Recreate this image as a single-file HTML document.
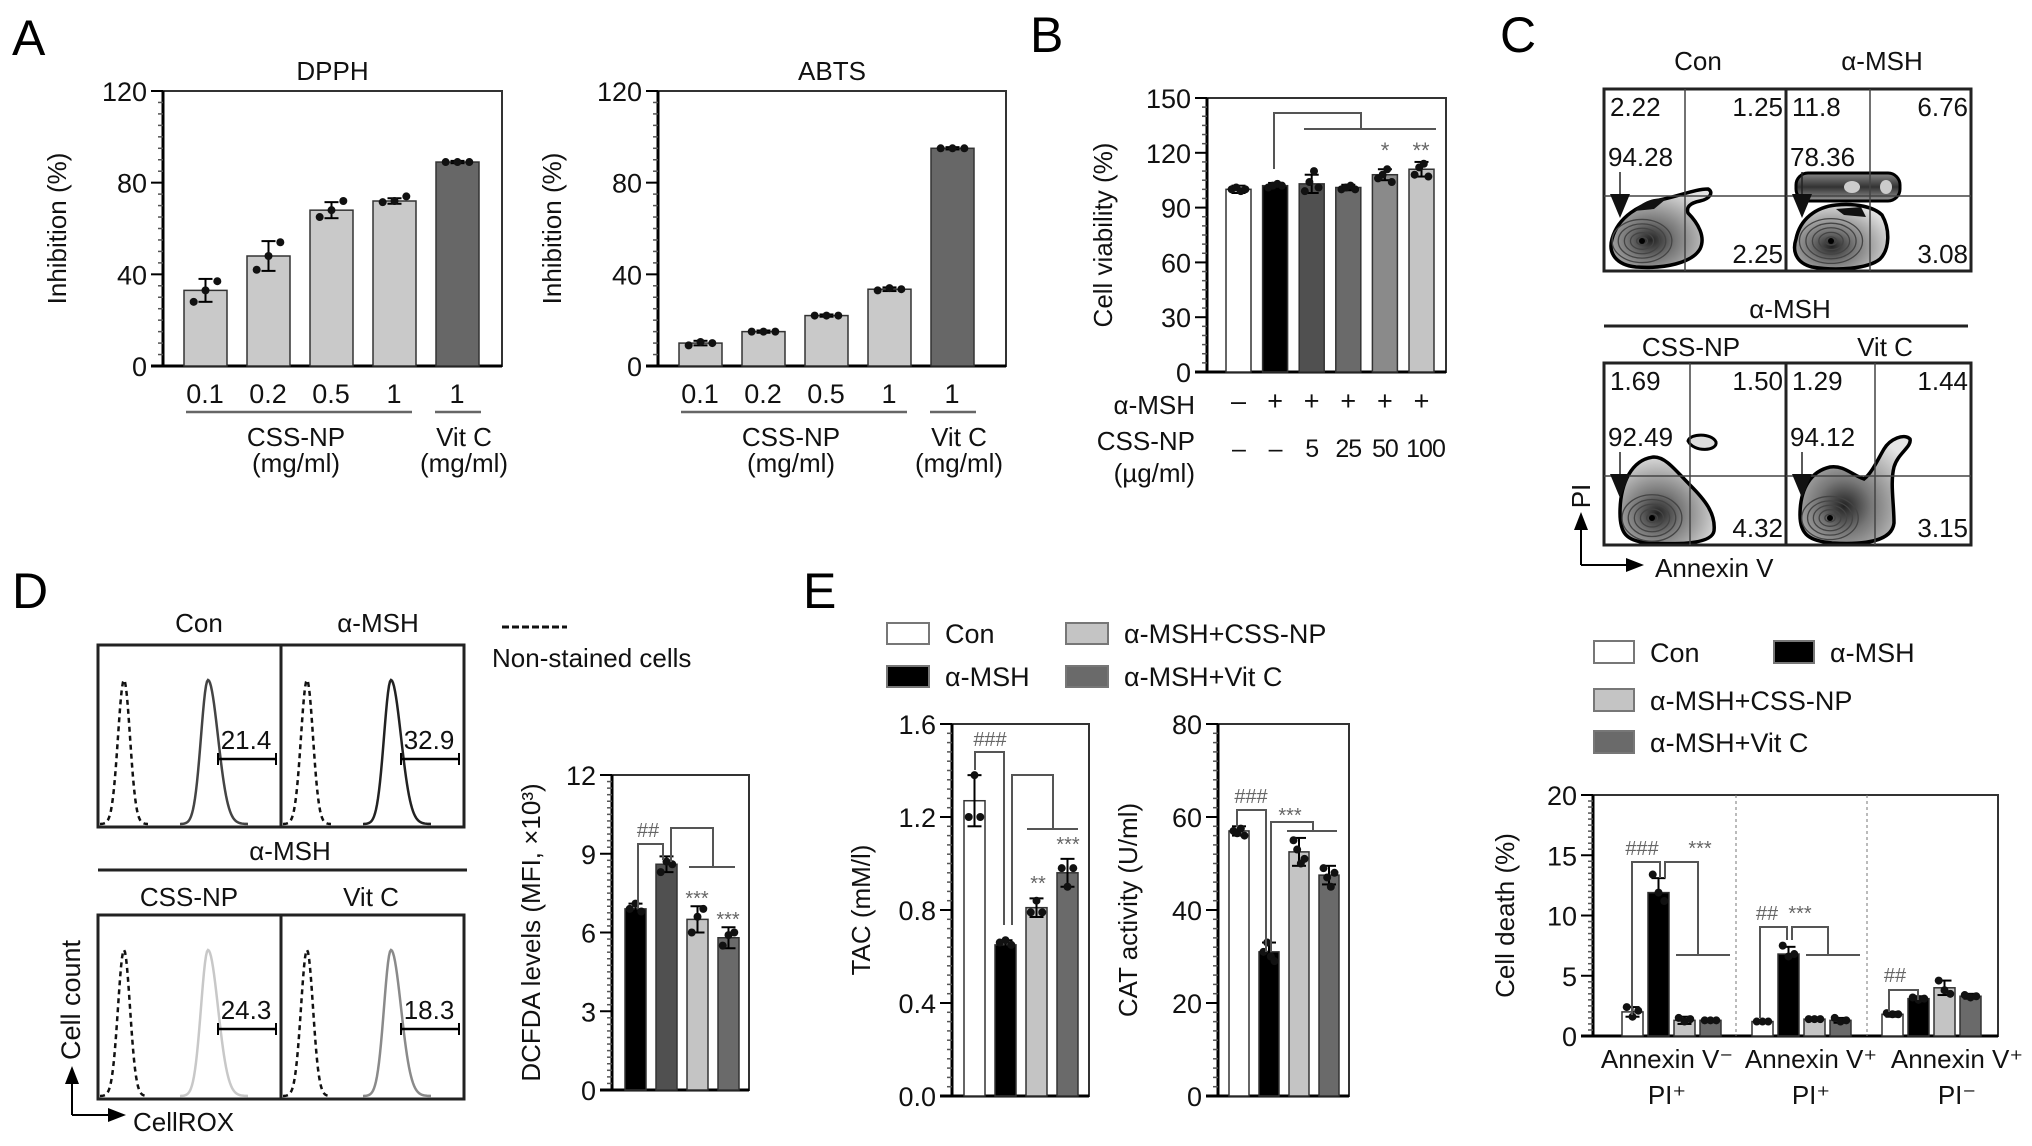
<!DOCTYPE html>
<html><head><meta charset="utf-8"><style>
html,body{margin:0;padding:0;background:#fff;}
svg{display:block;font-family:"Liberation Sans",sans-serif;}
</style></head><body>
<svg id="fig" width="2032" height="1146" viewBox="0 0 2032 1146" xmlns="http://www.w3.org/2000/svg">
<defs>
<radialGradient id="blobGrad" cx="0.4" cy="0.65" r="0.7">
<stop offset="0" stop-color="#222"/><stop offset="0.35" stop-color="#777"/><stop offset="0.75" stop-color="#bbb"/><stop offset="1" stop-color="#e4e4e4"/>
</radialGradient>
<linearGradient id="bandGrad" x1="0" y1="0" x2="0" y2="1">
<stop offset="0" stop-color="#888"/><stop offset="0.5" stop-color="#333"/><stop offset="1" stop-color="#999"/>
</linearGradient>
</defs>
<g id="static">
<text x="12" y="55" font-size="50">A</text>
<text x="1030" y="52" font-size="50">B</text>
<text x="1500" y="52" font-size="50">C</text>
<text x="12" y="608" font-size="50">D</text>
<text x="803" y="608" font-size="50">E</text>
</g>
</svg>
<script>
// ---------- DATA ----------
const dpphCats=['0.1','0.2','0.5','1','1'];
const dpphVals=[33,48,68,72,89];
const dpphErr=[5,6.5,3.5,1.2,0.5];
const dpphPts=[[28,33,37],[42,48,54],[65,68,72],[71.5,72,74],[89,89,89]];
const abtsCats=['0.1','0.2','0.5','1','1'];
const abtsVals=[10,15,22,33.5,95];
const abtsErr=[1,0.5,0.5,0.8,0.5];
const abtsPts=[[9,10.5,10],[15,15,15],[22,22,22],[33,34,33.5],[95,95,95]];
const aTicks=[0,40,80,120];
const bMsh=['\u2013','+','+','+','+','+'];
const bCss=['\u2013','\u2013','5','25','50','100'];
const bVals=[100,102,103,101,108,111];
const bErr=[2,1.5,5,1.5,3,4];
const bPts=[[100,101,99,100],[101,102,103,102],[99,104,110,101],[100,101,102,100],[106,108,111,104],[108,112,114,107]];
const bTicks=[0,30,60,90,120,150];
const dTicks=[0,3,6,9,12];
const dVals=[6.9,8.6,6.5,5.8];
const dErr=[0.2,0.3,0.5,0.4];
const dPts=[[6.9,7.1,6.8],[8.3,8.7,8.6],[6.0,6.6,6.9],[5.5,5.9,6.0]];
const tacTicks=['0.0','0.4','0.8','1.2','1.6'];
const tacVals=[1.27,0.65,0.81,0.96];
const tacErr=[0.11,0.02,0.04,0.06];
const tacPts=[[1.2,1.38,1.2],[0.66,0.67,0.65],[0.79,0.84,0.79],[0.98,0.9,0.98]];
const catTicks=[0,20,40,60,80];
const catVals=[57,31,52.5,47.5];
const catErr=[1,2,3,2];
const catPts=[[57,56.5,57.5,56],[31,33,30,29],[55,53,50,51],[49,47,45,48]];
const cdTicks=[0,5,10,15,20];
const cdGroups=['Annexin V\u207B|PI\u207A','Annexin V\u207A|PI\u207A','Annexin V\u207A|PI\u207B'];
const cdVals=[[2.0,11.9,1.3,1.3],[1.2,6.8,1.4,1.3],[1.8,3.1,4.0,3.3]];
const cdErr=[[0.4,1.2,0.3,0.1],[0.1,0.6,0.1,0.2],[0.2,0.2,0.6,0.2]];
const cdPts=[[[2.4,1.6,2.1],[13.4,11.9,11.2],[1.5,1.2,1.4],[1.3,1.3,1.3]],[[1.2,1.2,1.2],[7.5,6.6,6.8],[1.4,1.4,1.4],[1.5,1.2,1.3]],[[1.9,1.8,1.8],[3.2,3.0,3.1],[4.6,3.8,3.5],[3.4,3.2,3.3]]];
const flowQuads=[['2.22','1.25','94.28','2.25'],['11.8','6.76','78.36','3.08'],['1.69','1.50','92.49','4.32'],['1.29','1.44','94.12','3.15']];
const histVals=['21.4','32.9','24.3','18.3'];
const legendLabels=['Con','\u03B1-MSH','\u03B1-MSH+CSS-NP','\u03B1-MSH+Vit C'];

// ---------- HELPERS ----------
const NS='http://www.w3.org/2000/svg';
const svg=document.getElementById('fig');
function mk(tag,attrs,parent,text){const e=document.createElementNS(NS,tag);for(const k in attrs)e.setAttribute(k,attrs[k]);if(text!==undefined)e.textContent=text;(parent||svg).appendChild(e);return e;}
function line(p,x1,y1,x2,y2,w,c,dash){const a={x1,y1,x2,y2,stroke:c||'#000','stroke-width':w||2};if(dash)a['stroke-dasharray']=dash;return mk('line',a,p);}
function txt(p,x,y,s,size,anchor,fill,extra){const a={x,y,'font-size':size||25,'text-anchor':anchor||'middle',fill:fill||'#111'};if(extra)for(const k in extra)a[k]=extra[k];return mk('text',a,p,s);}

function axes(g,c){
  const yS=v=>c.yBot-(v/c.max)*(c.yBot-c.yTop);
  mk('rect',{x:c.x0,y:c.yTop,width:c.x1-c.x0,height:c.yBot-c.yTop,fill:'none',stroke:'#333','stroke-width':2},g);
  line(g,c.x0,c.yTop,c.x0,c.yBot,3);
  line(g,c.x0-12,c.yBot,c.x1,c.yBot,3);
  for(let v=0;v<=c.max+1e-9;v+=c.minor){line(g,c.x0-5,yS(v),c.x0,yS(v),1.5,'#555');}
  c.ticks.forEach(t=>{const v=parseFloat(t);line(g,c.x0-12,yS(v),c.x0,yS(v),2);
    const tl=txt(g,c.x0-16,yS(v)+10,t,c.fs||27,'end');
    
    });
  const tt=txt(g,0,0,c.title,c.tfs||26,'middle','#111',{transform:`translate(${c.titleX},${(c.yTop+c.yBot)/2}) rotate(-90)`});
  
  
  return yS;
}
function bars(g,yS,xs,w,vals,errs,pts,colors,yBot,name){
  vals.forEach((v,i)=>{
    const x=xs(i);
    const r=mk('rect',{x:x,y:yS(v),width:w,height:yBot-yS(v),fill:colors[i],stroke:'#333','stroke-width':1.5},g);
    
    
    const cx=x+w/2;
    line(g,cx,yS(v+errs[i]),cx,yS(Math.max(0,v-errs[i])),2);
    line(g,cx-7,yS(v+errs[i]),cx+7,yS(v+errs[i]),2);
    line(g,cx-7,yS(v-errs[i]),cx+7,yS(v-errs[i]),2);
    const n=pts[i].length;
    pts[i].forEach((p,j)=>{const dx=n>1?(j-(n-1)/2)*(w*0.55/(n-1)):0;
      const d=mk('circle',{cx:cx+dx,cy:yS(p),r:4,fill:'#111'},g);
      
      });
  });
}
function poly(g,pts,w,c){mk('polyline',{points:pts.map(p=>p.join(',')).join(' '),fill:'none',stroke:c||'#555','stroke-width':w||2},g);}

// ---------- PANEL A ----------
function panelA(id,title,x0,x1,cats,vals,errs,pts){
  const g=mk('g',{});  
  const yS=axes(g,{x0,x1,yTop:91,yBot:366,max:120,minor:5,ticks:aTicks.map(String),title:'Inhibition (%)',titleX:x0-97});
  txt(g,(x0+x1)/2,80,title,26);
  const xs=i=>x0+21+i*63;
  bars(g,yS,xs,43,vals,errs,pts,['#c9c9c9','#c9c9c9','#c9c9c9','#c9c9c9','#676767'],366,id);
  cats.forEach((c,i)=>txt(g,xs(i)+21,403,c,27));
  line(g,x0+23,412,x0+249,412,2.5,'#666');line(g,x0+272,412,x0+318,412,2.5,'#666');
  txt(g,x0+133,446,'CSS-NP',26);txt(g,x0+133,472,'(mg/ml)',26);
  txt(g,x0+301,446,'Vit C',26);txt(g,x0+301,472,'(mg/ml)',26);
}
panelA('dpph','DPPH',163,502,dpphCats,dpphVals,dpphErr,dpphPts);
panelA('abts','ABTS',658,1006,abtsCats,abtsVals,abtsErr,abtsPts);

// ---------- PANEL B ----------
(function(){
  const g=mk('g',{});  
  const yS=axes(g,{x0:1207,x1:1446,yTop:98,yBot:372,max:150,minor:5,ticks:bTicks.map(String),title:'Cell viability (%)',titleX:1112});
  const xs=i=>1226+i*36.6;
  bars(g,yS,xs,25,bVals,bErr,bPts,['#fff','#000','#505050','#6a6a6a','#8a8a8a','#c4c4c4'],372,'viability');
  poly(g,[[1274,169],[1274,113],[1361,113],[1361,129]]);line(g,1304,129,1436,129,2,'#555');
  txt(g,1385,158,'*',22,'middle','#666');txt(g,1421,158,'**',22,'middle','#666');
  bMsh.forEach((s,i)=>txt(g,xs(i)+12.5,410,s,27));
  bCss.forEach((s,i)=>txt(g,xs(i)+12.5+(i===5?4:0),457,s,25,'middle','#111',{'letter-spacing':'-1'}));
  txt(g,1195,414,'\u03B1-MSH',26,'end');txt(g,1195,450,'CSS-NP',26,'end');txt(g,1195,482,'(\u00B5g/ml)',26,'end');
})();

// ---------- PANEL C (flow) ----------
function body(g,ox,oy,d,cx,cy,rx,ry){
  mk('path',{d:d.replace(/(-?\d+(?:\.\d+)?) (-?\d+(?:\.\d+)?)/g,(m,a,b)=>(+a+ox)+' '+(+b+oy)),fill:'url(#blobGrad)',stroke:'#000','stroke-width':3.5},g);
  for(let k=1;k<=5;k++){const f=1-k*0.17;mk('ellipse',{cx:ox+cx,cy:oy+cy,rx:rx*f,ry:ry*f,fill:'none',stroke:'#444','stroke-width':1.3},g);}
  mk('circle',{cx:ox+cx,cy:oy+cy,r:3,fill:'#000'},g);
}
(function(){
  const g=mk('g',{});  
  const boxes=[[1604,89,1685,196],[1786,89,1870,196],[1604,363,1690,476],[1786,363,1875,476]];
  txt(g,1698,70,'Con',26);txt(g,1882,70,'\u03B1-MSH',26);
  txt(g,1790,318,'\u03B1-MSH',26);line(g,1604,326,1968,326,3,'#222');
  txt(g,1691,356,'CSS-NP',26);txt(g,1885,356,'Vit C',26);
  boxes.forEach((b,i)=>{
    const x=b[0],y=b[1],w=i%2===0?182:185,h=182;
    const gg=mk('g',{},g);  
    if(i===0){
      body(gg,x,y,'M8 150 C14 128 35 115 60 110 C78 106 92 100 104 100 C110 103 106 110 96 112 C86 114 82 118 84 124 C94 134 102 148 96 160 C88 174 60 180 32 178 C12 176 4 164 8 150 Z',38,152,36,26);
      mk('path',{d:`M${x+30} ${y+122} C${x+40} ${y+110} ${x+55} ${y+108} ${x+62} ${y+110} L${x+50} ${y+120} Z`,fill:'#111'},gg);
    }
    if(i===1){
      mk('rect',{x:x+10,y:y+84,width:104,height:28,rx:12,fill:'url(#bandGrad)',stroke:'#000','stroke-width':3},gg);
      mk('ellipse',{cx:x+66,cy:y+98,rx:8,ry:6,fill:'#ccc'},gg);mk('ellipse',{cx:x+100,cy:y+98,rx:6,ry:7,fill:'#ccc'},gg);
      body(gg,x,y,'M10 150 C14 130 30 118 50 116 C70 114 88 118 96 126 C104 140 104 160 94 170 C82 180 50 182 26 178 C10 174 6 162 10 150 Z',45,152,38,27);
      mk('path',{d:`M${x+50} ${y+120} L${x+75} ${y+118} L${x+80} ${y+128} L${x+58} ${y+126} Z`,fill:'#111'},gg);
    }
    if(i===2){
      body(gg,x,y,'M16 150 C16 120 28 96 50 94 C62 94 72 108 86 122 C100 136 112 150 110 168 C108 180 80 182 44 180 C22 178 16 170 16 150 Z',48,155,36,28);
      mk('path',{d:`M${x+84} ${y+78} C${x+86} ${y+70} ${x+108} ${y+70} ${x+112} ${y+79} C${x+114} ${y+88} ${x+90} ${y+90} ${x+84} ${y+78} Z`,fill:'#ddd',stroke:'#000','stroke-width':3},gg);
    }
    if(i===3){
      body(gg,x,y,'M14 152 C14 124 26 108 44 104 C58 102 66 112 78 116 C86 110 92 96 98 86 C104 76 118 70 124 76 C126 84 112 90 108 104 C104 120 108 140 108 160 C106 178 80 182 46 180 C24 178 14 172 14 152 Z',44,155,34,26);
    }
    mk('rect',{x,y,width:w,height:h,fill:'none',stroke:'#222','stroke-width':3},gg);
    line(gg,b[2],y,b[2],y+h,1.5,'#444');line(gg,x,b[3],x+w,b[3],1.5,'#444');
    const ay=b[3];
    line(gg,x+16,ay-24,x+16,ay,1.5,'#222');
    mk('polygon',{points:`${x+6},${ay-2} ${x+26},${ay-2} ${x+16},${ay+22}`,fill:'#111'},gg);
    const q=flowQuads[i];
    txt(gg,x+6,y+27,q[0],26,'start');txt(gg,x+w-3,y+27,q[1],26,'end');
    txt(gg,x+4,b[3]-30,q[2],26,'start');txt(gg,x+w-3,y+h-8,q[3],26,'end');
  });
  line(g,1581,565,1581,528,2);mk('polygon',{points:'1574,530 1588,530 1581,512',fill:'#000'},g);
  line(g,1581,565,1628,565,2);mk('polygon',{points:'1626,558 1626,572 1644,565',fill:'#000'},g);
  txt(g,0,0,'PI',26,'middle','#111',{transform:'translate(1590,496) rotate(-90)'});
  txt(g,1655,577,'Annexin V',26,'start');
})();

// ---------- LEGENDS ----------
const legCols=['#fff','#000','#c4c4c4','#6a6a6a'];
(function(){
  const g=mk('g',{});  
  const pos=[[1594,641],[1774,641],[1594,689],[1594,731]];
  pos.forEach((p,i)=>{const e=mk('g',{},g);
    mk('rect',{x:p[0],y:p[1],width:40,height:22,fill:legCols[i],stroke:'#777','stroke-width':2},e);
    txt(e,p[0]+56,p[1]+21,legendLabels[i],27,'start');});
  const h=mk('g',{});  
  const pe=[[887,623],[887,666],[1066,623],[1066,666]];
  pe.forEach((p,i)=>{const e=mk('g',{},h);
    mk('rect',{x:p[0],y:p[1],width:42,height:21,fill:legCols[i],stroke:'#777','stroke-width':2},e);
    txt(e,p[0]+58,p[1]+20,legendLabels[i],27,'start');});
})();

// ---------- CELL DEATH ----------
(function(){
  const g=mk('g',{});  
  const yS=axes(g,{x0:1593,x1:1998,yTop:795,yBot:1036,max:20,minor:0.5,ticks:cdTicks.map(String),title:'Cell death (%)',titleX:1514});
  line(g,1736,795,1736,1036,1,'#777','3,3');line(g,1867,795,1867,1036,1,'#777','3,3');
  cdGroups.forEach((lab,gi)=>{
    const xs=j=>1622+gi*130+j*26;
    bars(g,yS,xs,21,cdVals[gi],cdErr[gi],cdPts[gi],legCols,1036,'cell-death-g'+(gi+1));
    const parts=lab.split('|');
    txt(g,1667+gi*(gi===2?145:144),1068,parts[0],26);txt(g,1667+gi*(gi===2?145:144),1104,parts[1],26);
  });
  txt(g,1642,855,'###',20,'middle','#666');txt(g,1700,855,'***',20,'middle','#666');
  poly(g,[[1632,1015],[1632,862],[1660,862],[1660,878]]);poly(g,[[1665,878],[1665,862],[1698,862],[1698,955]]);line(g,1676,955,1730,955,2,'#555');
  txt(g,1767,920,'##',20,'middle','#666');txt(g,1800,920,'***',20,'middle','#666');
  poly(g,[[1760,1018],[1760,927],[1787,927],[1787,940]]);poly(g,[[1792,940],[1792,927],[1828,927],[1828,955]]);line(g,1806,955,1860,955,2,'#555');
  txt(g,1895,982,'##',20,'middle','#666');
  poly(g,[[1889,1012],[1889,990],[1918,990],[1918,1000]]);
})();

// ---------- PANEL D ----------
function peak(g,cx,yb,yt,sl,sr,col,dash){
  const p=[];for(let dx=-4*sl;dx<=4*sr;dx+=1){const s=dx<0?sl:sr;p.push([cx+dx,yb-(yb-yt)*Math.exp(-dx*dx/(2*s*s))]);}
  const a={points:p.map(q=>q.join(',')).join(' '),fill:'none',stroke:col,'stroke-width':2.5};if(dash)a['stroke-dasharray']=dash;mk('polyline',a,g);
}
(function(){
  const g=mk('g',{});  
  txt(g,199,632,'Con',26);txt(g,378,632,'\u03B1-MSH',26);
  txt(g,290,860,'\u03B1-MSH',26);line(g,98,870,467,870,3,'#222');
  txt(g,189,906,'CSS-NP',26);txt(g,371,906,'Vit C',26);
  const boxes=[[98,645],[281,645],[98,915],[281,915]];
  const cols=['#444','#222','#c8c8c8','#8a8a8a'];
  boxes.forEach((b,i)=>{
    const gg=mk('g',{},g);
    const h=i<2?182:184;
    peak(gg,b[0]+26,b[1]+h-3,b[1]+35,6,6,'#111','5,4');
    peak(gg,b[0]+110,b[1]+h-3,b[1]+35,7,10,cols[i]);
    mk('rect',{x:b[0],y:b[1],width:183,height:h,fill:'none',stroke:'#222','stroke-width':3},gg);
    const gy=b[1]+114;
    line(gg,b[0]+120,gy,b[0]+178,gy,2.5);line(gg,b[0]+120,gy-6,b[0]+120,gy+6,2);line(gg,b[0]+178,gy-6,b[0]+178,gy+6,2);
    txt(gg,b[0]+148,gy-10,histVals[i],26);
  });
  line(g,502,627,567,627,3,'#111','7,3');
  txt(g,492,667,'Non-stained cells',26,'start');
  line(g,72,1115,72,1082,2);mk('polygon',{points:'65,1084 79,1084 72,1066',fill:'#000'},g);
  line(g,72,1115,110,1115,2);mk('polygon',{points:'108,1108 108,1122 126,1115',fill:'#000'},g);
  txt(g,0,0,'Cell count',27,'middle','#111',{transform:'translate(80,1000) rotate(-90)'});
  txt(g,133,1131,'CellROX',26,'start');
})();
(function(){
  const g=mk('g',{});  
  const yS=axes(g,{x0:612,x1:749,yTop:775,yBot:1090,max:12,minor:0.25,ticks:dTicks.map(String),title:'DCFDA levels (MFI, \u00D710\u00B3)',titleX:540});
  const xs=i=>625+i*31;
  bars(g,yS,xs,21,dVals,dErr,dPts,['#000','#505050','#c4c4c4','#6a6a6a'],1090,'dcfda');
  txt(g,648,837,'##',20,'middle','#666');
  poly(g,[[638,908],[638,844],[663,844],[663,860]]);poly(g,[[671,862],[671,828],[713,828],[713,867]]);line(g,689,867,735,867,2,'#555');
  txt(g,697,905,'***',20,'middle','#666');txt(g,728,926,'***',20,'middle','#666');
})();

// ---------- PANEL E ----------
(function(){
  const g=mk('g',{});  
  const yS=axes(g,{x0:952,x1:1089,yTop:724,yBot:1096,max:1.6,minor:0.04,ticks:tacTicks,title:'TAC (mM/l)',titleX:870});
  const xs=i=>964+i*31;
  bars(g,yS,xs,21,tacVals,tacErr,tacPts,legCols,1096,'tac');
  txt(g,990,746,'###',20,'middle','#666');
  poly(g,[[975,770],[975,752],[1004,752],[1004,925]]);
  poly(g,[[1012,925],[1012,775],[1053,775],[1053,829]]);line(g,1027,829,1078,829,2,'#555');
  txt(g,1038,890,'**',20,'middle','#666');txt(g,1068,851,'***',20,'middle','#666');
})();
(function(){
  const g=mk('g',{});  
  const yS=axes(g,{x0:1218,x1:1349,yTop:724,yBot:1096,max:80,minor:2,ticks:catTicks.map(String),title:'CAT activity (U/ml)',titleX:1137});
  const xs=i=>1229+i*30;
  bars(g,yS,xs,20,catVals,catErr,catPts,legCols,1096,'cat');
  txt(g,1251,803,'###',20,'middle','#666');txt(g,1290,822,'***',20,'middle','#666');
  poly(g,[[1237,827],[1237,810],[1266,810],[1266,952]]);
  poly(g,[[1271,952],[1271,822],[1313,822],[1313,831]]);line(g,1287,831,1337,831,2,'#555');
})();
</script>
</body></html>
